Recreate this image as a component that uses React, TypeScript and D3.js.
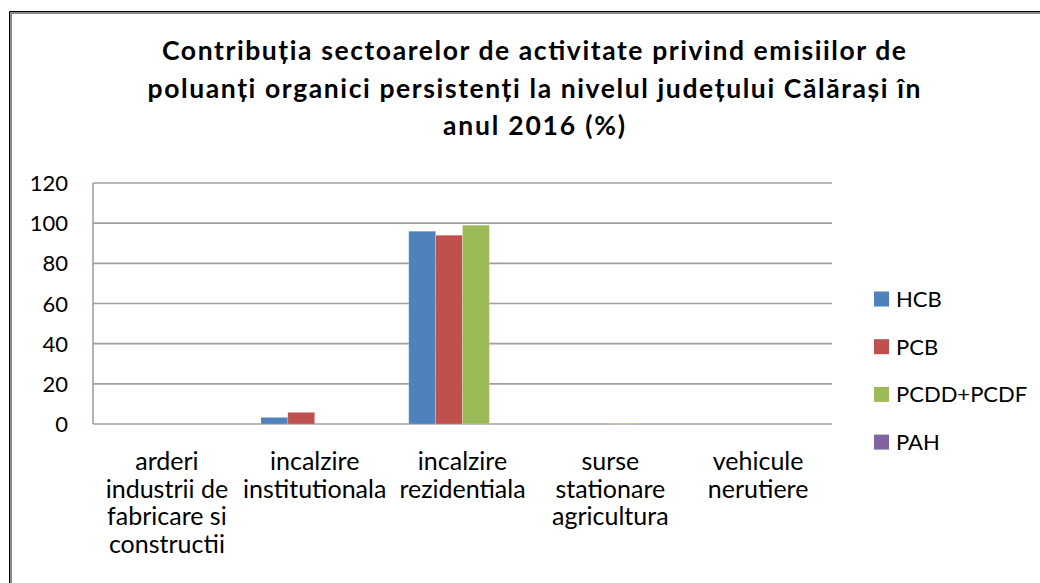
import React from "react";
import * as d3 from "d3";

const categories: string[][] = [
  ["arderi", "industrii de", "fabricare si", "constructii"],
  ["incalzire", "institutionala"],
  ["incalzire", "rezidentiala"],
  ["surse", "stationare", "agricultura"],
  ["vehicule", "nerutiere"],
];
const seriesNames = ["HCB", "PCB", "PCDD+PCDF", "PAH"];
const seriesColors = ["#4F81BD", "#C0504D", "#9BBB59", "#8064A2"];
const hcb = [0, 3.3, 96, 0, 0];
const pcb = [0, 5.8, 94, 0, 0];
const pcdd = [0, 0, 99, 0.4, 0];
const pah = [0, 0, 0, 0, 0];
const yTicks = [0, 20, 40, 60, 80, 100, 120];
const titleLines = [
  "Contribuția sectoarelor de activitate privind emisiilor de",
  "poluanți organici persistenți la nivelul județului Călărași în",
  "anul 2016 (%)",
];
const titleWidths = [744, 773, 182];

const W = 1040;
const H = 583;
const font = "Lato, 'Open Sans', sans-serif";

export default function App() {
  const values = [hcb, pcb, pcdd, pah];
  const left = 93, right = 832, top = 183, bottom = 424;
  const x0 = d3.scaleBand<number>().domain(d3.range(categories.length)).range([left, right]).paddingInner(0).paddingOuter(0);
  const y = d3.scaleLinear().domain([0, 120]).range([bottom, top]);
  const bw = x0.bandwidth() / (seriesNames.length + 1.5);
  const groupOffset = (x0.bandwidth() - bw * seriesNames.length) / 2;

  return (
    <svg width={W} height={H} style={{ position: "absolute", left: 0, top: 0, background: "#fff" }}>
      <rect x={0} y={0} width={W} height={H} fill="#fff" />
      {/* frame */}
      <path d={`M9.5,${H} V11.5 H${W}`} fill="none" stroke="#000" strokeWidth={1} />
      <path d={`M11,${H} V13 H${W}`} fill="none" stroke="#8a8a8a" strokeWidth={2} />
      {/* title */}
      {titleLines.map((t, i) => (
        <text key={i} x={534} y={60 + i * 37.5} textAnchor="middle" fontFamily={font} fontWeight="bold" fontSize={26.5} fill="#000"
          textLength={titleWidths[i]} lengthAdjust="spacing">
          {t}
        </text>
      ))}
      {/* gridlines */}
      {yTicks.map((t) => (
        <line key={t} x1={left} x2={right} y1={y(t)} y2={y(t)} stroke="#a0a0a0" strokeWidth={1.6} />
      ))}
      <line x1={left} x2={left} y1={top} y2={bottom} stroke="#a0a0a0" strokeWidth={1.6} />
      {yTicks.map((t) => (
        <text key={"l" + t} x={68} y={y(t) + 8} textAnchor="end" fontFamily={font} fontSize={22} fill="#000">
          {t}
        </text>
      ))}
      {/* bars */}
      {values.map((vals, s) =>
        vals.map((v, c) => {
          const bx = (x0(c) as number) + groupOffset + s * bw;
          const by = y(v);
          return v > 0 ? (
            <rect key={s + "-" + c} x={bx} y={by} width={bw} height={bottom - by} fill={seriesColors[s]} stroke="#ffffff" strokeOpacity={0.35} strokeWidth={0.6} />
          ) : null;
        })
      )}
      {/* category labels */}
      {categories.map((lines, c) => (
        <text key={"c" + c} textAnchor="middle" fontFamily={font} fontSize={25} fill="#000">
          {lines.map((ln, i) => (
            <tspan key={i} x={(x0(c) as number) + x0.bandwidth() / 2} y={470 + i * 27.6}>
              {ln}
            </tspan>
          ))}
        </text>
      ))}
      {/* legend */}
      {seriesNames.map((n, i) => (
        <g key={n} transform={`translate(874, ${299 + i * 47.7})`}>
          <rect x={0} y={-7.5} width={15} height={15} fill={seriesColors[i]} />
          <text x={22} y={8} fontFamily={font} fontSize={22} fill="#000">
            {n}
          </text>
        </g>
      ))}
    </svg>
  );
}
